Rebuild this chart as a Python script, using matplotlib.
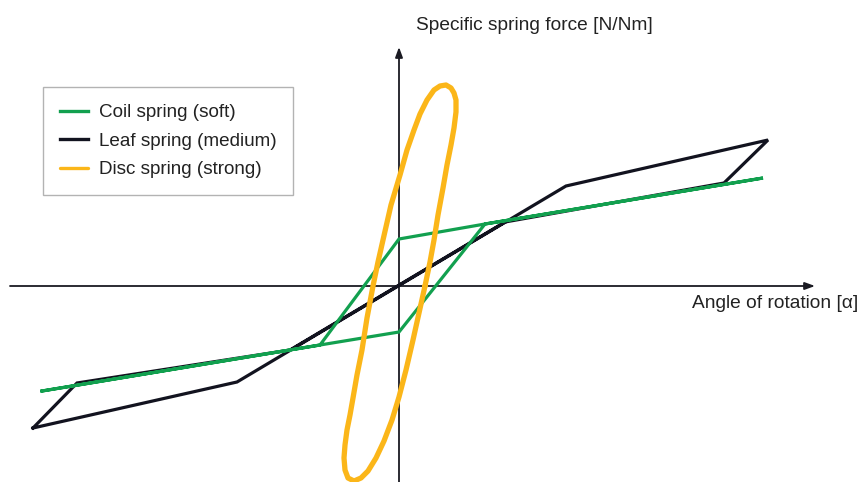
import matplotlib.pyplot as plt

plt.rcParams['font.family'] = ['Liberation Sans', 'DejaVu Sans']

# values (origin = where the axes cross)
coil_x = [-357, -79, 0, 86, 364, 86, 0, -79, -357]
coil_y = [-105, -59, -46, 62, 108, 62, 47, -59, -105]

leaf_x = [-366, -162, 167, 369, 325, 106, -109, -322, -366]
leaf_y = [-142, -96, 100, 146, 103, 64, -64, -97, -142]

disc_x = [26, 20, 14, 7, 0, -7, -15, -23, -31, -38, -45, -51, -54, -55, -54, -52,
          -49, -46, -42, -37, -32, -26, -21, -16, -8, 1, 8, 15, 21, 28, 35, 41, 47,
          52, 55, 57, 57, 55, 52, 48, 44, 39, 35, 31, 26]
disc_y = [0, -27, -54, -84, -111, -134, -155, -172, -185, -192, -195, -192, -184,
          -172, -159, -144, -129, -112, -89, -64, -32, 0, 24, 46, 81, 111, 136, 156,
          172, 186, 196, 200, 201, 198, 193, 186, 174, 158, 141, 121, 98, 71, 46, 24, 0]

labels = ['Coil spring (soft)', 'Leaf spring (medium)', 'Disc spring (strong)']
green = '#12a04f'
black = '#12131f'
yellow = '#fbb619'

fig = plt.figure(figsize=(8.6, 4.82), dpi=100)
ax = fig.add_axes([0, 0, 1, 1])
ax.set_xlim(-399, 461)
ax.set_ylim(-196, 286)
ax.axis('off')

# axes with arrows
arrow = dict(arrowstyle='-|>,head_length=0.6,head_width=0.22', color='#1a1a22', lw=1.3,
             shrinkA=0, shrinkB=0)
ax.annotate('', xy=(416, 0), xytext=(-389, 0), arrowprops=arrow, zorder=1)
ax.annotate('', xy=(0, 239), xytext=(0, -196), arrowprops=arrow, zorder=1)

ax.plot(coil_x, coil_y, color=green, lw=2.3, label=labels[0], zorder=3,
        solid_joinstyle='miter')
ax.plot(leaf_x, leaf_y, color=black, lw=2.3, label=labels[1], zorder=2,
        solid_joinstyle='miter')
ax.plot(disc_x, disc_y, color=yellow, lw=3.8, label=labels[2], zorder=4,
        solid_joinstyle='round', solid_capstyle='round')

ax.text(17, 260, 'Specific spring force [N/Nm]', fontsize=13.8, color='#222222',
        ha='left', va='center')
ax.text(459, -18, 'Angle of rotation [α]', fontsize=13.8, color='#222222',
        ha='right', va='center')

leg = ax.legend(loc='upper left', bbox_to_anchor=(43 / 860, 1 - 87 / 482),
                bbox_transform=fig.transFigure, borderaxespad=0, fancybox=False,
                edgecolor='#a0a0a0', fontsize=13.6, handlelength=1.5,
                handletextpad=0.55, labelspacing=0.6, borderpad=0.9)
leg.get_frame().set_linewidth(1.0)
for h in leg.get_lines():
    h.set_linewidth(2.4)
for t in leg.get_texts():
    t.set_color('#222222')

fig.savefig('out.png', dpi=100)
